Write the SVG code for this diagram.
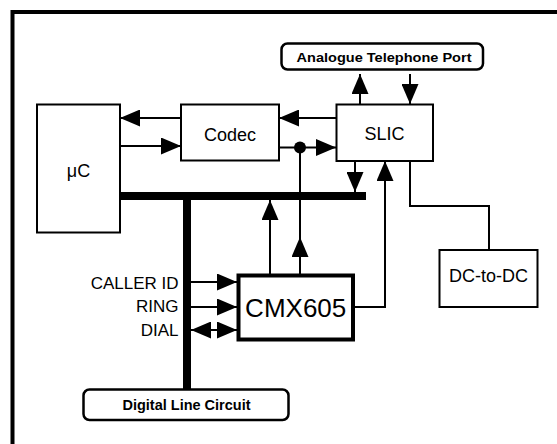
<svg xmlns="http://www.w3.org/2000/svg" width="557" height="444" viewBox="0 0 557 444">
<defs>
<marker id="ah" markerUnits="userSpaceOnUse" markerWidth="20" markerHeight="17" refX="20" refY="8.5" orient="auto-start-reverse" viewBox="0 0 20 17">
<path d="M0,0 L20,8.5 L0,17 z" fill="#000"/>
</marker>
<style>
.box{fill:#fff;stroke:#000;stroke-width:2}
.port{fill:#fff;stroke:#000;stroke-width:2.5}
.lbl{font-family:"Liberation Sans",Arial,sans-serif;font-size:18px;fill:#000;text-anchor:middle}
.plbl{font-family:"Liberation Sans",Arial,sans-serif;font-weight:bold;fill:#000;text-anchor:middle}
.sig{font-family:"Liberation Sans",Arial,sans-serif;font-size:17px;fill:#000;text-anchor:end}
.ln{fill:none;stroke:#000;stroke-width:2}
.arr{fill:none;stroke:#000;stroke-width:2;marker-end:url(#ah)}
.bus{fill:none;stroke:#000;stroke-width:8}
</style>
</defs>
<rect width="557" height="444" fill="#fff"/>
<path d="M12.5,444 V12 H557" fill="none" stroke="#000" stroke-width="4"/>

<g id="connectors">
<path class="bus" d="M120,196 H366"/>
<path class="bus" d="M187,196 V389"/>
<path class="arr" d="M181,118 H120"/>
<path class="arr" d="M120,146 H181"/>
<path class="arr" d="M336,118 H279"/>
<path class="arr" d="M279,147.5 H336"/>
<circle cx="300" cy="147.5" r="6" fill="#000"/>
<path class="arr" d="M360,104 V74"/>
<path class="arr" d="M410,74 V104"/>
<path class="arr" d="M355,161 V192"/>
<path class="arr" d="M355,307 H385 V161"/>
<path class="arr" d="M270,275 V200"/>
<path class="arr" d="M300,275 V237"/>
<path class="ln" d="M300,238 V147.5"/>
<path class="arr" d="M191,282 H237"/>
<path class="arr" d="M191,307 H237"/>
<path class="arr" d="M191,330 H237" marker-start="url(#ah)"/>
<path class="ln" d="M410,161 V206 H489 V250"/>
</g>

<g id="uC">
<rect class="box" x="37" y="104.5" width="83" height="128"/>
<text class="lbl" x="78.5" y="176.5">μC</text>
</g>
<g id="codec">
<rect class="box" x="181" y="104.5" width="98" height="56"/>
<text class="lbl" x="230" y="140.5">Codec</text>
</g>
<g id="slic">
<rect class="box" x="336.5" y="104.5" width="96.5" height="56.5"/>
<text class="lbl" x="384.5" y="139.5">SLIC</text>
</g>
<g id="dcdc">
<rect class="box" x="439.5" y="250" width="98" height="57"/>
<text class="lbl" x="488.5" y="281.5">DC-to-DC</text>
</g>
<g id="cmx605">
<rect x="238.5" y="275.5" width="114.5" height="64" fill="#fff" stroke="#000" stroke-width="4"/>
<text class="lbl" x="295.7" y="317.3" style="font-size:26px">CMX605</text>
</g>
<g id="analogue-port">
<rect class="port" x="281.5" y="43.5" width="201.5" height="26" rx="6"/>
<text class="plbl" x="384" y="61.5" font-size="13.5" textLength="175" lengthAdjust="spacingAndGlyphs">Analogue Telephone Port</text>
</g>
<g id="digital-line">
<rect class="port" x="83.5" y="389.5" width="205" height="30.5" rx="6"/>
<text class="plbl" x="186.5" y="409.5" font-size="14" textLength="128" lengthAdjust="spacingAndGlyphs">Digital Line Circuit</text>
</g>
<g id="signals">
<text class="sig" x="178.5" y="288.5">CALLER ID</text>
<text class="sig" x="178.5" y="311.5">RING</text>
<text class="sig" x="178.5" y="336">DIAL</text>
</g>
</svg>
